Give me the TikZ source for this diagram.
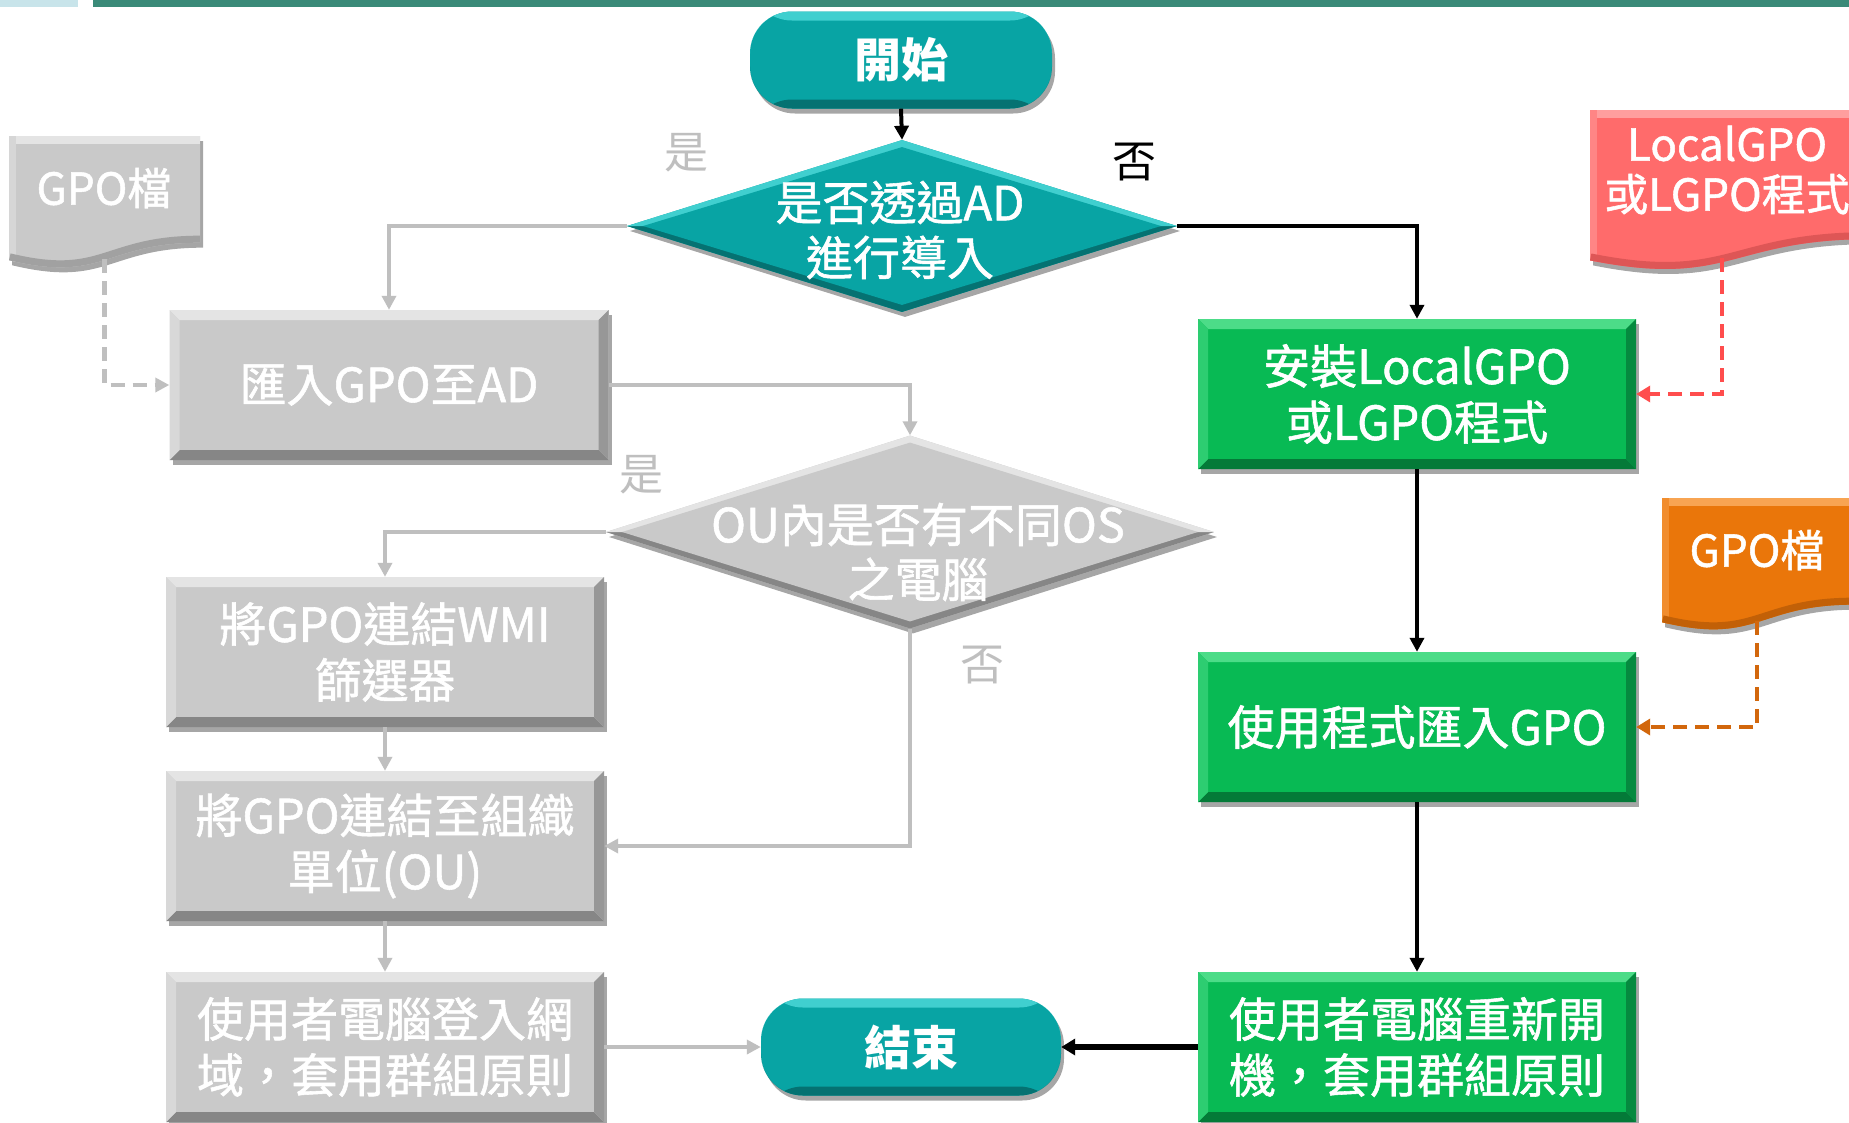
\documentclass[tikz,border=0pt]{standalone}
\usepackage{fontspec}
\setmainfont{Noto Sans CJK TC}
\newfontfamily\medfont{Noto Sans CJK TC}[FakeBold=1.2]
\usetikzlibrary{shapes.geometric,arrows.meta,shadows,calc}

\definecolor{teal1}{HTML}{08A4A4}
\definecolor{teallt}{HTML}{40CFCF}
\definecolor{tealdk}{HTML}{057272}
\definecolor{gbase}{HTML}{C9C9C9}
\definecolor{glt}{HTML}{E4E4E4}
\definecolor{gdk}{HTML}{868686}
\definecolor{grbase}{HTML}{08BA54}
\definecolor{grlt}{HTML}{4CDC88}
\definecolor{grdk}{HTML}{047A38}
\definecolor{redd}{HTML}{FF6B6B}
\definecolor{reddlt}{HTML}{FF9E9E}
\definecolor{redddk}{HTML}{C84848}
\definecolor{oran}{HTML}{EA760A}
\definecolor{oranlt}{HTML}{F8A452}
\definecolor{orandk}{HTML}{A85205}
\definecolor{lineg}{HTML}{BFBFBF}
\definecolor{reddash}{HTML}{FF4D4D}
\definecolor{orandash}{HTML}{D2670C}
\definecolor{barteal}{HTML}{3A8A78}
\definecolor{barblue}{HTML}{C8E4EA}

\newcommand\mydoc[7]{%
  \path[fill=#5, drop shadow={shadow xshift=3pt,shadow yshift=-5pt,opacity=0.35,fill=black}]
    (#1,#2) -- ({#1+#3},#2) -- ({#1+#3},{#2+0.802*#4})
    .. controls ({#1+0.5*#3},{#2+0.802*#4}) and ({#1+0.5*#3},{#2+1.1075*#4}) ..
    (#1,{#2+0.934*#4}) -- cycle;
  \begin{scope}
    \clip (#1,#2) -- ({#1+#3},#2) -- ({#1+#3},{#2+0.802*#4})
      .. controls ({#1+0.5*#3},{#2+0.802*#4}) and ({#1+0.5*#3},{#2+1.1075*#4}) ..
      (#1,{#2+0.934*#4}) -- cycle;
    \fill[#6] (#1,#2) rectangle ({#1+#3},{#2+8});
    \fill[#6!50!#5] (#1,#2) rectangle ({#1+7},{#2+#4});
    \draw[#7!60!#5, line width=14pt] ({#1+#3},{#2+0.802*#4})
      .. controls ({#1+0.5*#3},{#2+0.802*#4}) and ({#1+0.5*#3},{#2+1.1075*#4}) ..
      (#1,{#2+0.934*#4});
  \end{scope}
}

\begin{document}
\begin{tikzpicture}[x=1pt,y=-1pt,
  shd/.style={drop shadow={shadow xshift=3pt,shadow yshift=-5pt,opacity=0.35,fill=black}},
  bevelbox/.style n args={3}{fill=#1, path picture={
    \fill[#2] (path picture bounding box.north west) -- (path picture bounding box.north east)
      -- ([shift={(-10pt,-10pt)}]path picture bounding box.north east)
      -- ([shift={(10pt,-10pt)}]path picture bounding box.north west) -- cycle;
    \fill[#3] (path picture bounding box.south west) -- (path picture bounding box.south east)
      -- ([shift={(-10pt,10pt)}]path picture bounding box.south east)
      -- ([shift={(10pt,10pt)}]path picture bounding box.south west) -- cycle;
    \fill[#3!75!#1] (path picture bounding box.north east) -- (path picture bounding box.south east)
      -- ([shift={(-10pt,10pt)}]path picture bounding box.south east)
      -- ([shift={(-10pt,-10pt)}]path picture bounding box.north east) -- cycle;
    \fill[#2!55!#1] (path picture bounding box.north west) -- (path picture bounding box.south west)
      -- ([shift={(10pt,10pt)}]path picture bounding box.south west)
      -- ([shift={(10pt,-10pt)}]path picture bounding box.north west) -- cycle;
  }},
  diabevel/.style n args={3}{fill=#1, path picture={
    \fill[#3] (path picture bounding box.west) -- (path picture bounding box.south) -- (path picture bounding box.east) -- cycle;
    \fill[#2] (path picture bounding box.west) -- (path picture bounding box.north) -- (path picture bounding box.east) -- cycle;
    \fill[#1] ([xshift=16pt]path picture bounding box.west) -- ([yshift=-7pt]path picture bounding box.north)
      -- ([xshift=-16pt]path picture bounding box.east) -- ([yshift=7pt]path picture bounding box.south) -- cycle;
  }},
  termbevel/.style n args={3}{fill=#1, path picture={
    \fill[#2] (path picture bounding box.north west) rectangle ([yshift=-9pt]path picture bounding box.north east);
    \fill[#3] (path picture bounding box.south west) rectangle ([yshift=9pt]path picture bounding box.south east);
  }},
  procbox/.style={rectangle, minimum width=438pt, minimum height=150pt, inner sep=0pt,
    text=white, font=\medfont\fontsize{47}{56}\selectfont, align=center, shd},
  graybox/.style={procbox, bevelbox={gbase}{glt}{gdk}},
  greenbox/.style={procbox, bevelbox={grbase}{grlt}{grdk}},
  term/.style={rectangle, rounded corners=42pt, minimum width=300pt, minimum height=97pt,
    inner sep=0pt, text=white, font=\bfseries\fontsize{47}{56}\selectfont,
    termbevel={teal1}{teallt}{tealdk}, shd},
  dia/.style={diamond, inner sep=0pt, shd},
  dtext/.style={text=white, align=center, inner sep=0pt, font=\medfont\fontsize{47}{55}\selectfont},
  doctext/.style={text=white, align=center, inner sep=0pt, font=\medfont\fontsize{44}{50}\selectfont},
  lbl/.style={inner sep=0pt, font=\fontsize{44}{50}\selectfont},
  gline/.style={draw=lineg, line width=4.5pt, -{Triangle[length=14pt,width=14pt]}},
  bline/.style={draw=black, line width=4pt, -{Triangle[length=14pt,width=14pt]}},
  gdash/.style={gline, dash pattern=on 14pt off 8pt},
  rdash/.style={draw=reddash, line width=4.5pt, dash pattern=on 14pt off 8pt, -{Triangle[length=14pt,width=16pt]}},
  odash/.style={draw=orandash, line width=4.5pt, dash pattern=on 14pt off 8pt, -{Triangle[length=14pt,width=16pt]}}
]
\useasboundingbox (0,0) rectangle (1849,1122);
\clip (0,0) rectangle (1849,1122);
\fill[white] (0,0) rectangle (1849,1122);
\fill[barblue] (0,0) rectangle (78,7);
\fill[barteal] (93,0) rectangle (1849,7);

% documents
\mydoc{9}{136}{191}{133}{gbase}{glt}{gdk}
\node[doctext] (gdoc) at (104,188) {GPO檔};
\coordinate (gdocb) at (104.5,259);

\mydoc{1590}{110}{280}{161}{redd}{reddlt}{redddk}
\node[doctext] (rdoc) at (1727,170) {LocalGPO\\或LGPO程式};
\coordinate (rdocb) at (1722,258);

\mydoc{1662}{498}{191}{133}{oran}{oranlt}{orandk}
\node[doctext] (odoc) at (1757,550) {GPO檔};
\coordinate (odocb) at (1757,621);

% terminators
\node[term, minimum width=302pt] (start) at (901,60) {開始};
\node[term] (end) at (911,1047) {結束};

% decisions
\node[dia, minimum width=550pt, minimum height=172pt, diabevel={teal1}{teallt}{tealdk}] (d1) at (902,226) {};
\node[dtext] (d1t) at (900,230) {是否透過AD\\進行導入};
\node[dia, minimum width=608pt, minimum height=193pt, diabevel={gbase}{glt}{gdk}] (d2) at (910,532) {};
\node[dtext] (d2t) at (918,552) {OU內是否有不同OS\\之電腦};

% left gray boxes
\node[graybox, minimum width=439pt] (box1) at (389,385) {匯入GPO至AD};
\node[graybox] (wmi) at (385,652) {將GPO連結WMI\\篩選器};
\node[graybox] (ou) at (385,846) {將GPO連結至組織\\單位(OU)};
\node[graybox] (login) at (385,1047) {使用者電腦登入網\\域，套用群組原則};

% right green boxes
\node[greenbox] (g1) at (1417,394) {安裝LocalGPO\\或LGPO程式};
\node[greenbox] (g2) at (1417,727) {使用程式匯入GPO};
\node[greenbox] (g3) at (1417,1047) {使用者電腦重新開\\機，套用群組原則};

% branch labels
\node[lbl, text=lineg] (yes1) at (686,153) {是};
\node[lbl, text=black] (no1) at (1134,162) {否};
\node[lbl, text=lineg] (yes2) at (641,475) {是};
\node[lbl, text=lineg] (no2) at (982,665) {否};

% connectors
\draw[bline] (start.south) -- (d1.north);
\draw[gline] (d1.west) -| (box1.north);
\draw[bline] (d1.east) -| (g1.north);
\draw[gdash] (gdocb) |- (box1.west);
\draw[gline] (box1.east) -| (d2.north);
\draw[gline] (d2.west) -| (wmi.north);
\draw[gline] (wmi.south) -- (ou.north);
\draw[gline] (d2.south) |- (ou.east);
\draw[gline] (ou.south) -- (login.north);
\draw[gline] (login.east) -- (end.west);
\draw[rdash] (rdocb) |- (g1.east);
\draw[bline] (g1.south) -- (g2.north);
\draw[odash] (odocb) |- (g2.east);
\draw[bline, line width=3.5pt] (g2.south) -- (g3.north);
\draw[bline, line width=6pt, -{Triangle[length=14pt,width=16pt]}] (g3.west) -- (end.east);
\end{tikzpicture}
\end{document}
